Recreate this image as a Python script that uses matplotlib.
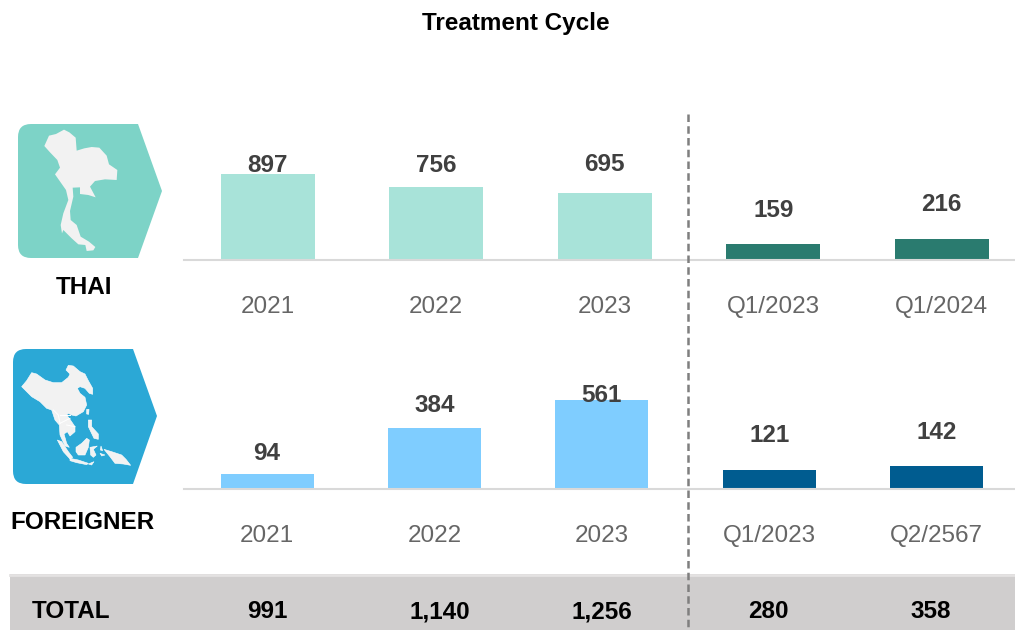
import matplotlib
matplotlib.use('Agg')
import matplotlib.pyplot as plt
from matplotlib.patches import FancyBboxPatch, Polygon, Rectangle

plt.rcParams['font.family'] = ['Liberation Sans', 'DejaVu Sans']

# Data
thai_labels = ['2021', '2022', '2023', 'Q1/2023', 'Q1/2024']
thai_values = [897, 756, 695, 159, 216]
foreign_labels = ['2021', '2022', '2023', 'Q1/2023', 'Q2/2567']
foreign_values = [94, 384, 561, 121, 142]
total_labels = ['991', '1,140', '1,256', '280', '358']

# Gap in pixels between bar top and middle of its value label
thai_gaps = [11, 24, 31, 36, 37]
foreign_gaps = [23, 25, 7, 37, 36]

W, H = 1015, 630
fig = plt.figure(figsize=(W / 100, H / 100), dpi=100)

# Full-size axes in pixel coordinates for the band, icons and row titles
bg = fig.add_axes([0, 0, 1, 1], zorder=0)
bg.set_xlim(0, W)
bg.set_ylim(H, 0)
bg.axis('off')


def bar_row(values, labels, gaps, colors, first_x, step, width, base_y, px_per_unit):
    ax = fig.add_axes([184 / W, 1 - base_y / H, (W - 184) / W, 140 / H], zorder=1)
    ax.patch.set_alpha(0)
    ax.set_xlim((184 - first_x) / step, (W - first_x) / step)
    ax.set_ylim(0, 140 / px_per_unit)
    ax.bar(range(len(values)), values, width=width / step, color=colors)
    for i, v in enumerate(values):
        # 1 px = 0.72 pt at dpi 100
        ax.annotate(str(v), (i, v), xytext=(0, gaps[i] * 0.72), textcoords='offset points',
                    ha='center', va='center_baseline', fontsize=17.5, fontweight='bold',
                    color='#404040', annotation_clip=False)
    ax.set_xticks(range(len(labels)))
    ax.set_xticklabels(labels, fontsize=17.5, color='#666666')
    ax.tick_params(axis='x', length=0, pad=26)
    ax.set_yticks([])
    for side in ['top', 'left', 'right']:
        ax.spines[side].set_visible(False)
    ax.spines['bottom'].set_color('#D9D9D9')
    ax.spines['bottom'].set_linewidth(1.5)
    return ax


light_teal, dark_teal = '#A8E3D9', '#2A7B6F'
light_blue, dark_blue = '#7FCDFF', '#005C90'

bar_row(thai_values, thai_labels, thai_gaps, [light_teal] * 3 + [dark_teal] * 2,
        267.8, 168.5, 94, 259.5, 0.0953)
bar_row(foreign_values, foreign_labels, foreign_gaps, [light_blue] * 3 + [dark_blue] * 2,
        267, 167.4, 93, 488.5, 0.157)


def icon(left, top, right, bottom, tip, color):
    r = 13
    bg.add_patch(FancyBboxPatch((left + r, top + r), right - left - 2 * r, bottom - top - 2 * r,
                                boxstyle='round,pad=%d,rounding_size=%d' % (r, r), fc=color, ec='none'))
    bg.add_patch(Polygon([(right - 20, top), (right, top), tip, (right, bottom), (right - 20, bottom)],
                         closed=True, fc=color, ec='none'))


# Map outlines traced from the icons, in 3x crop coordinates
thailand = [(13, 63), (27, 32), (48, 27), (72, 14), (88, 22), (107, 38), (110, 77), (133, 70), (155, 66),
            (178, 68), (200, 92), (207, 118), (232, 135), (230, 165), (195, 163), (165, 168), (150, 185),
            (167, 217), (145, 210), (120, 207), (120, 187), (98, 188), (100, 215), (90, 258), (92, 285),
            (110, 300), (122, 335), (147, 350), (166, 366), (160, 376), (140, 378), (136, 360), (115, 358),
            (95, 340), (70, 315), (66, 325), (62, 300), (70, 265), (85, 225), (78, 195), (45, 148),
            (60, 128), (52, 105), (30, 82)]
asia_shapes = [
    # China and mainland south-east Asia
    [(5, 80), (20, 62), (35, 38), (50, 42), (75, 60), (100, 68), (125, 68), (145, 52), (150, 42), (138, 30),
     (145, 16), (160, 18), (180, 35), (195, 42), (205, 62), (218, 85), (218, 103), (208, 100), (195, 85),
     (180, 80), (172, 85), (180, 100), (195, 112), (200, 135), (190, 155), (168, 168), (155, 165), (145, 160),
     (140, 165), (150, 178), (165, 200), (165, 215), (150, 228), (142, 215), (132, 222), (140, 250), (148, 262),
     (135, 258), (120, 225), (118, 195), (105, 180), (95, 150), (80, 145), (60, 125), (35, 110), (20, 95)],
    # Sumatra, Java and the small islands east of it
    [(112, 240), (125, 245), (145, 275), (158, 292), (150, 297), (130, 275)],
    [(150, 295), (175, 300), (205, 310), (200, 314), (170, 308), (150, 302)],
    [(205, 312), (222, 305), (215, 315)],
    # Borneo
    [(168, 262), (185, 250), (200, 235), (208, 240), (205, 262), (195, 285), (175, 285), (168, 275)],
    # Sulawesi
    [(210, 262), (232, 258), (220, 268), (228, 285), (220, 292), (212, 285)],
    # Philippines
    [(205, 180), (215, 180), (215, 200), (235, 222), (235, 238), (222, 235), (205, 200)],
    # Taiwan
    [(200, 148), (207, 148), (206, 163), (200, 162)],
    # New Guinea and Moluccas
    [(252, 268), (275, 275), (305, 285), (318, 298), (332, 316), (310, 312), (285, 310), (270, 290)],
    [(240, 280), (255, 285), (245, 288)],
    [(243, 258), (248, 272), (241, 270)],
]
asia_borders = [
    [(100, 150), (115, 165), (120, 190)],
    [(120, 165), (150, 165)],
    [(120, 190), (150, 175)],
    [(140, 195), (165, 200)],
]


def crop_shape(points, x0, y0):
    return [(x0 + x / 3, y0 + y / 3) for x, y in points]


icon(18, 124, 138, 258, (162, 191), '#7DD3C7')
bg.add_patch(Polygon(crop_shape(thailand, 40, 125), closed=True, fc='#F2F2F2', ec='none'))

icon(13, 349, 133, 484, (157, 416), '#2BA8D6')
for shape in asia_shapes:
    bg.add_patch(Polygon(crop_shape(shape, 20, 360), closed=True, fc='#F2F2F2', ec='white', lw=0.4))
for border in asia_borders:
    pts = crop_shape(border, 20, 360)
    bg.plot([p[0] for p in pts], [p[1] for p in pts], color='white', lw=0.7)

# Total band
bg.add_patch(Rectangle((10, 574), W - 10, H - 574, fc='#D0CECE', ec='none'))
bg.plot([10, W], [574.5, 574.5], color='#E4E2E2', lw=2)

bold = dict(fontsize=17.5, fontweight='bold', color='black', ha='center', va='baseline')
bg.text(516, 30, 'Treatment Cycle', **bold)
bg.text(84, 294, 'THAI', **bold)
bg.text(82, 529, 'FOREIGNER', **bold)
bg.text(71, 618.5, 'TOTAL', **bold)
for x, label in zip([267, 440, 602, 768, 931], total_labels):
    bg.text(x, 618.5, label, **bold)

# Divider between full years and quarters, on top of everything
top = fig.add_axes([0, 0, 1, 1], zorder=2)
top.set_xlim(0, W)
top.set_ylim(H, 0)
top.axis('off')
top.plot([688.5, 688.5], [114, H], color='#7F7F7F', lw=1.8, ls=(0, (3, 1.7)))

fig.savefig('out.png', dpi=100)
